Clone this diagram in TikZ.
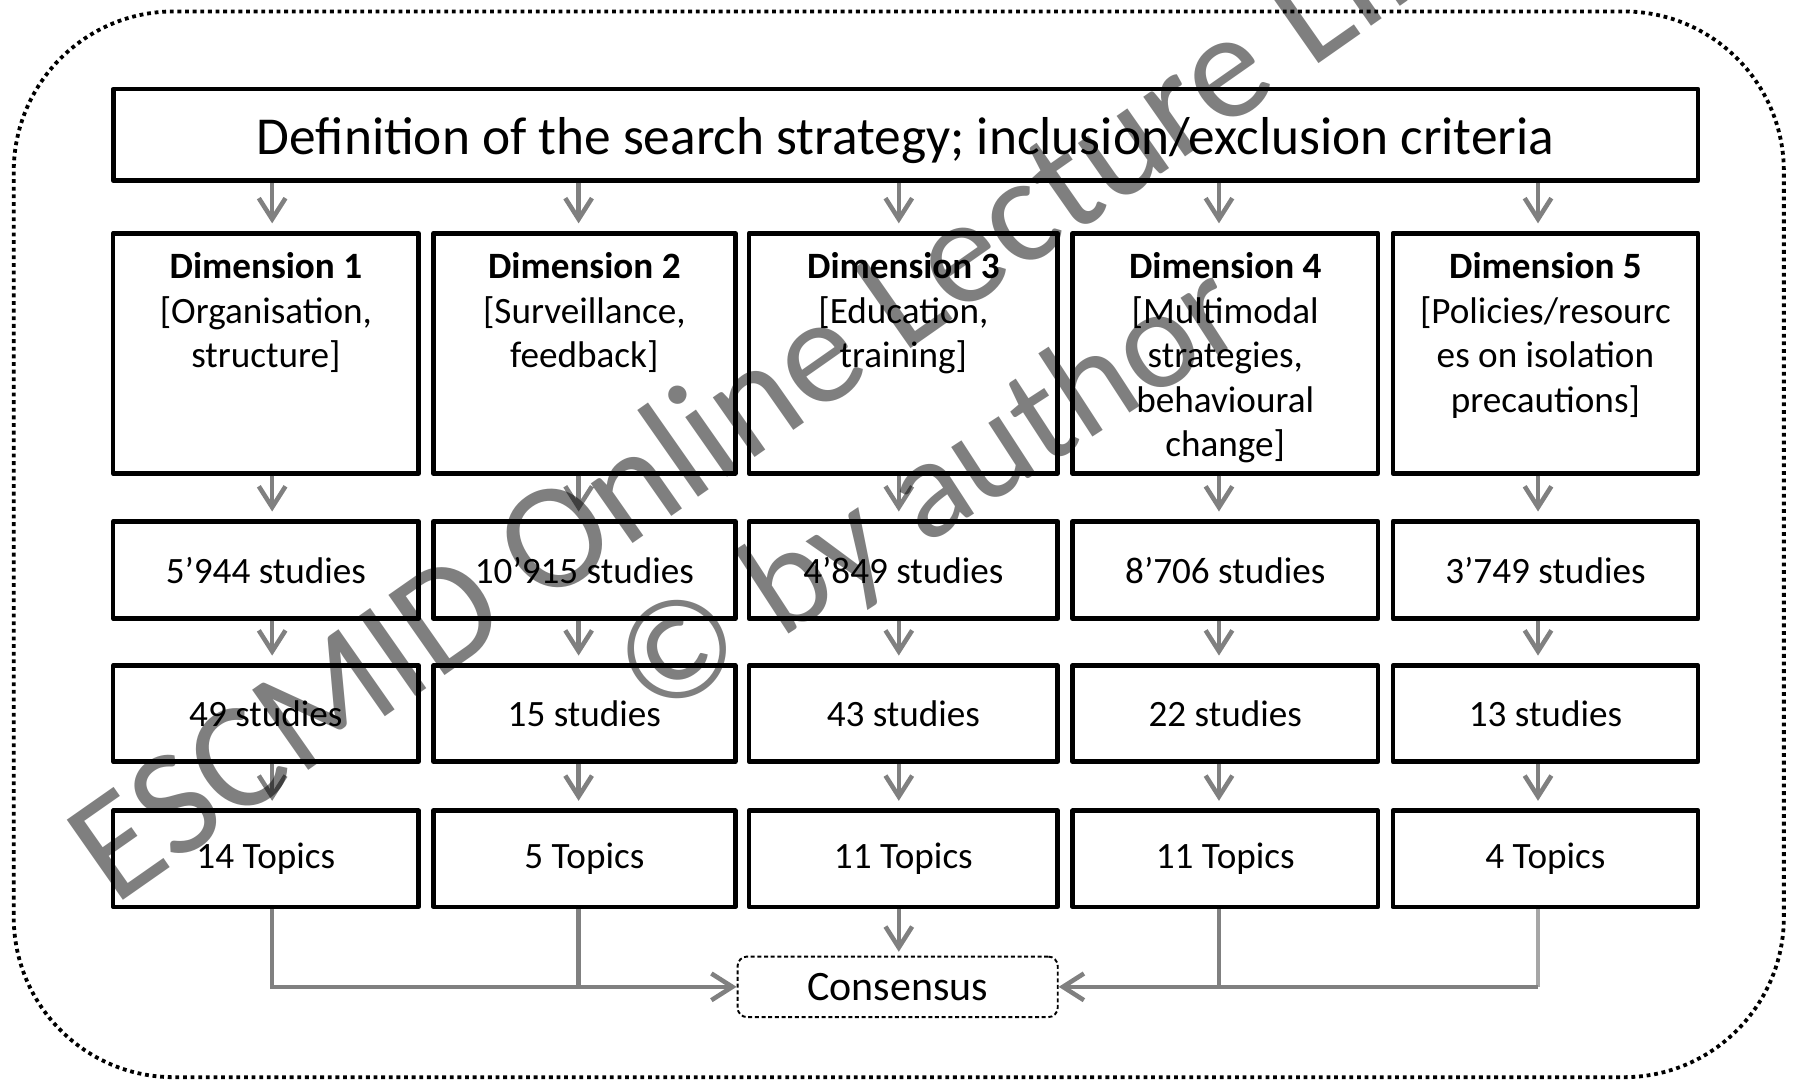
\documentclass[tikz,border=0pt]{standalone}
\usepackage{fontspec}
\setmainfont{Carlito}
\usetikzlibrary{arrows.meta}
\definecolor{arrgray}{RGB}{128,128,128}
\definecolor{lightgray2}{RGB}{166,166,166}
\begin{document}
\begin{tikzpicture}[x=0.6pt,y=-0.6pt,
  box/.style={draw=black, line width=2.4pt, line join=round, inner sep=0pt},
  dimtxt/.style={font=\fontsize{19.5}{23.4}\selectfont, inner sep=0pt, anchor=base},
  numbox/.style={box, minimum height=50.4pt, font=\fontsize{19.5}{23.4}\selectfont},
  arr/.style={draw=arrgray, line width=2.4pt, -{Straight Barb[length=11pt,width=14pt]}, shorten >=4pt},
  conn/.style={draw=arrgray, line width=2.4pt},
  wm/.style={text=black, text opacity=0.5, inner sep=0pt, anchor=base west},
]
\useasboundingbox (0,0) rectangle (1568,948);
\draw[line width=2pt, dash pattern=on 2pt off 2pt, rounded corners=84pt] (12,10) rectangle (1560,942);

% top box
\node[box, minimum width=831.6pt, minimum height=48pt, text height=20.4pt, text depth=0pt, font=\fontsize{28}{33}\selectfont] (top) at (792,118) {Definition of the search strategy; inclusion/exclusion criteria};

% column coordinates (arrow axes)
\coordinate (c1) at (238,0);
\coordinate (c2) at (506,0);
\coordinate (c3) at (786,0);
\coordinate (c4) at (1066,0);
\coordinate (c5) at (1345,0);

% dimension boxes
\node[box, minimum width=160.2pt, minimum height=126pt] (d1) at (232.5,309) {};
\node[box, minimum width=158.4pt, minimum height=126pt] (d2) at (511,309) {};
\node[box, minimum width=162pt, minimum height=126pt] (d3) at (790,309) {};
\node[box, minimum width=160.2pt, minimum height=126pt] (d4) at (1071.5,309) {};
\node[box, minimum width=160.2pt, minimum height=126pt] (d5) at (1351.5,309) {};

\node[dimtxt] (d1t) at (232.5,243.5) {\begin{tabular}[t]{@{}c@{}}\textbf{Dimension 1}\\{}[Organisation,\\structure]\end{tabular}};
\node[dimtxt] (d2t) at (511,243.5) {\begin{tabular}[t]{@{}c@{}}\textbf{Dimension 2}\\{}[Surveillance,\\feedback]\end{tabular}};
\node[dimtxt] (d3t) at (790,243.5) {\begin{tabular}[t]{@{}c@{}}\textbf{Dimension 3}\\{}[Education,\\training]\end{tabular}};
\node[dimtxt] (d4t) at (1071.5,243.5) {\begin{tabular}[t]{@{}c@{}}\textbf{Dimension 4}\\{}[Multimodal\\strategies,\\behavioural\\change]\end{tabular}};
\node[dimtxt] (d5t) at (1351.5,243.5) {\begin{tabular}[t]{@{}c@{}}\textbf{Dimension 5}\\{}[Policies/resourc\\es on isolation\\precautions]\end{tabular}};

% studies (search)
\node[numbox, minimum width=160.2pt, minimum height=51pt] (s1) at (232.5,498.5) {5’944 studies};
\node[numbox, minimum width=158.4pt, minimum height=51pt] (s2) at (511,498.5) {10’915 studies};
\node[numbox, minimum width=162pt, minimum height=51pt] (s3) at (790,498.5) {4’849 studies};
\node[numbox, minimum width=160.2pt, minimum height=51pt] (s4) at (1071.5,498.5) {8’706 studies};
\node[numbox, minimum width=160.2pt, minimum height=51pt] (s5) at (1351.5,498.5) {3’749 studies};

% studies (included)
\node[numbox, minimum width=160.2pt] (i1) at (232.5,624) {49 studies};
\node[numbox, minimum width=158.4pt] (i2) at (511,624) {15 studies};
\node[numbox, minimum width=162pt] (i3) at (790,624) {43 studies};
\node[numbox, minimum width=160.2pt] (i4) at (1071.5,624) {22 studies};
\node[numbox, minimum width=160.2pt] (i5) at (1351.5,624) {13 studies};

% topics
\node[numbox, minimum width=160.2pt] (t1) at (232.5,751) {14 Topics};
\node[numbox, minimum width=158.4pt] (t2) at (511,751) {5 Topics};
\node[numbox, minimum width=162pt] (t3) at (790,751) {11 Topics};
\node[numbox, minimum width=160.2pt] (t4) at (1071.5,751) {11 Topics};
\node[numbox, minimum width=160.2pt] (t5) at (1351.5,751) {4 Topics};

% consensus
\node[draw=black, dash pattern=on 2.1pt off 1.4pt, line width=1pt, rounded corners=5pt, minimum width=168pt, minimum height=31.8pt, inner sep=0pt, font=\fontsize{22}{26}\selectfont] (cons) at (785,863) {Consensus};

% arrows
\foreach \i in {1,...,5}{
  \draw[arr] (top.south -| c\i) -- (d\i.north -| c\i);
  \draw[arr] (d\i.south -| c\i) -- (s\i.north -| c\i);
  \draw[arr] (s\i.south -| c\i) -- (i\i.north -| c\i);
  \draw[arr] (i\i.south -| c\i) -- (t\i.north -| c\i);
}
\draw[arr, shorten >=0pt] (t1.south -| c1) |- (cons.west);
\draw[conn] (t2.south -| c2) -- (cons.west -| c2);
\draw[arr, shorten >=2pt] (t3.south -| c3) -- (cons.north -| c3);
\draw[conn] (t4.south -| c4) -- (cons.east -| c4);
\draw[conn, draw=lightgray2] (t5.south -| c5) -- (cons.east -| c5);
\draw[arr, shorten >=0pt] (cons.east -| c5) -- (cons.east);

% watermark
\node[wm, rotate=35, font=\fontsize{80}{90}\selectfont] (wm1) at (100,793) {ESCMID Online Lecture Library};
\node[wm, rotate=33, font=\fontsize{75}{90}\selectfont] (wm2) at (571,632) {© by author};
\end{tikzpicture}
\end{document}
